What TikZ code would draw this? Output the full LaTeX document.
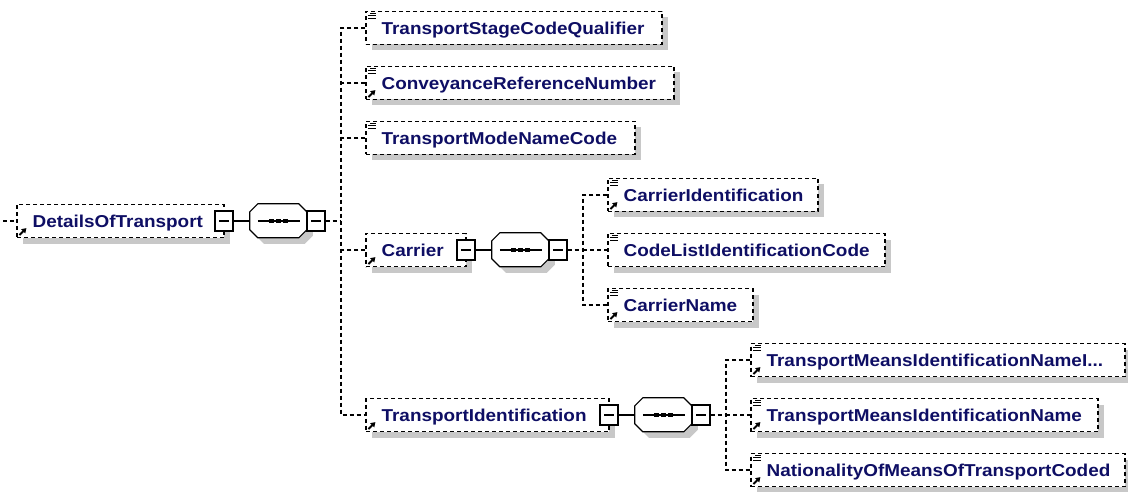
\documentclass[tikz,border=0pt]{standalone}
\usepackage{fontspec}
\newfontfamily\lblfont{Liberation Sans}[FakeStretch=1.1]
\usetikzlibrary{arrows.meta,shadows}
\definecolor{lblcol}{RGB}{14,14,100}
\definecolor{shadowgray}{RGB}{200,200,200}
\newcommand\seqshape[1]{%
  \path[fill=shadowgray] ([shift={(14,6)}]#1.north west) -- ++(41,0) -- ++(8,8) -- ++(0,18) -- ++(-8,8) -- ++(-41,0) -- ++(-8,-8) -- ++(0,-18) -- cycle;
  \draw[solidl,fill=white] ([xshift=8pt]#1.north west) -- ++(41,0) -- ++(8,8) -- ++(0,18) -- ++(-8,8) -- ++(-41,0) -- ++(-8,-8) -- ++(0,-18) -- cycle;
  \draw[solidl] ([xshift=8pt]#1.west) -- ([xshift=-7pt]#1.east);
  \foreach \d in {-7,0,7} {\fill ([xshift=\d pt]#1.center) +(-2.2,-2.2) rectangle +(2.2,2.2);}
}
\newcommand\elicon[1]{%
  \draw[icon] ([shift={(5,2.5)}]#1.north west) -- ++(6,0);
  \draw[icon] ([shift={(3,5)}]#1.north west) -- ++(8,0);
  \draw[icon] ([shift={(3,7.5)}]#1.north west) -- ++(8,0);
}
\newcommand\reficon[1]{%
  \draw[refarrow] ([shift={(3,-3)}]#1.south west) -- ++(7,-7);
}
\begin{document}
\begin{tikzpicture}[x=1pt,y=-1pt,
  solidl/.style={line width=1.2pt, solid},
  dashl/.style={line width=1.2pt, dash pattern=on 4pt off 3pt},
  elem/.style={rectangle, draw, line width=1.2pt, dash pattern=on 4pt off 3pt, fill=white,
    minimum height=33pt, inner sep=0pt,
    drop shadow={shadow xshift=6pt, shadow yshift=-6pt, fill=shadowgray, opacity=1}},
  lbl/.style={anchor=base west, inner sep=0pt, text=lblcol,
    font=\lblfont\bfseries\fontsize{17.2}{20}\selectfont},
  minusbox/.style={rectangle, draw, solid, line width=1.2pt, fill=white,
    minimum width=18pt, minimum height=20pt, inner sep=0pt,
    path picture={\draw[line width=1.2pt] ([xshift=4pt]path picture bounding box.west) -- ([xshift=-4pt]path picture bounding box.east);}},
  seqbox/.style={rectangle, inner sep=0pt, minimum width=57pt, minimum height=34pt},
  icon/.style={line width=1.1pt, solid},
  refarrow/.style={line width=1.8pt, solid, -{Triangle[length=4.5pt,width=5.5pt]}}
]
\useasboundingbox (0,0) rectangle (1128,492);

% element boxes
\node[elem, minimum width=207pt] (details) at (120.5,221) {};
\node[elem, minimum width=296pt] (tscq) at (514,28) {};
\node[elem, minimum width=308pt] (crn) at (520,83) {};
\node[elem, minimum width=269pt] (tmnc) at (500.5,138) {};
\node[elem, minimum width=100pt] (carrier) at (416,250) {};
\node[elem, minimum width=243pt] (ti) at (487.5,415) {};
\node[elem, minimum width=210pt] (ci) at (713,195) {};
\node[elem, minimum width=277pt] (clic) at (746.5,250) {};
\node[elem, minimum width=145pt] (cn) at (680.5,305) {};
\node[elem, minimum width=374pt] (tmini) at (938,360) {};
\node[elem, minimum width=347pt] (tmin) at (924.5,415) {};
\node[elem, minimum width=374pt] (nomotc) at (938,470) {};

% sequence compositors
\node[seqbox] (s0) at (278.5,221) {};
\node[seqbox] (s1) at (520.5,250) {};
\node[seqbox] (s2) at (663.5,415) {};
\seqshape{s0}
\seqshape{s1}
\seqshape{s2}

% minus boxes
\node[minusbox] (m0) at (224,221) {};
\node[minusbox] (m1) at (466,250) {};
\node[minusbox] (m2) at (609,415) {};
\node[minusbox] (r0) at (316,221) {};
\node[minusbox] (r1) at (558,250) {};
\node[minusbox] (r2) at (701,415) {};

% junctions
\coordinate (in0) at (3,221);
\coordinate (t0) at (341,221);
\coordinate (t1) at (583,250);
\coordinate (t2) at (726,415);

% connectors
\draw[dashl] (in0) -- (details.west);
\draw[solidl] (m0.east) -- (s0.west);
\draw[dashl] (r0.east) -- (t0);
\draw[dashl] (tscq.west) -| (t0) |- (ti.west);
\draw[dashl] (crn.west) -- (crn.west -| t0);
\draw[dashl] (tmnc.west) -- (tmnc.west -| t0);
\draw[dashl] (carrier.west) -- (carrier.west -| t0);

\draw[solidl] (m1.east) -- (s1.west);
\draw[dashl] (r1.east) -- (t1);
\draw[dashl] (ci.west) -| (t1) |- (cn.west);
\draw[dashl] (t1) -- (clic.west);

\draw[solidl] (m2.east) -- (s2.west);
\draw[dashl] (r2.east) -- (t2);
\draw[dashl] (tmini.west) -| (t2) |- (nomotc.west);
\draw[dashl] (t2) -- (tmin.west);

% icons
\foreach \n in {tscq,crn,tmnc,ci,clic,cn,tmini,tmin,nomotc} {\elicon{\n}}
\foreach \n in {details,crn,carrier,ti,ci,cn,tmini,tmin,nomotc} {\reficon{\n}}

% labels
\node[lbl] (details-l) at ([shift={(16,6.2)}]details.west) {DetailsOfTransport};
\node[lbl] (tscq-l) at ([shift={(16,6.2)}]tscq.west) {TransportStageCodeQualifier};
\node[lbl] (crn-l) at ([shift={(16,6.2)}]crn.west) {ConveyanceReferenceNumber};
\node[lbl] (tmnc-l) at ([shift={(16,6.2)}]tmnc.west) {TransportModeNameCode};
\node[lbl] (carrier-l) at ([shift={(16,6.2)}]carrier.west) {Carrier};
\node[lbl] (ti-l) at ([shift={(16,6.2)}]ti.west) {TransportIdentification};
\node[lbl] (ci-l) at ([shift={(16,6.2)}]ci.west) {CarrierIdentification};
\node[lbl] (clic-l) at ([shift={(16,6.2)}]clic.west) {CodeListIdentificationCode};
\node[lbl] (cn-l) at ([shift={(16,6.2)}]cn.west) {CarrierName};
\node[lbl] (tmini-l) at ([shift={(16,6.2)}]tmini.west) {TransportMeansIdentificationNameI...};
\node[lbl] (tmin-l) at ([shift={(16,6.2)}]tmin.west) {TransportMeansIdentificationName};
\node[lbl] (nomotc-l) at ([shift={(16,6.2)}]nomotc.west) {NationalityOfMeansOfTransportCoded};
\end{tikzpicture}
\end{document}
